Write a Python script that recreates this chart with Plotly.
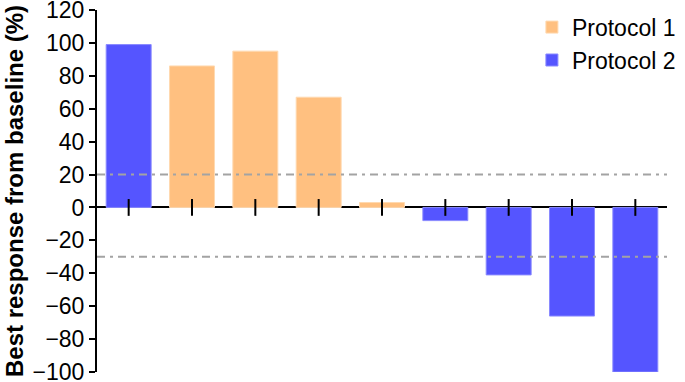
import plotly.graph_objects as go

patients = [1, 2, 3, 4, 5, 6, 7, 8, 9]
best_response = [99, 86, 95, 67, 3, -8, -41, -66, -100]
protocol = ["Protocol 2", "Protocol 1", "Protocol 1", "Protocol 1", "Protocol 1",
            "Protocol 2", "Protocol 2", "Protocol 2", "Protocol 2"]
series_names = ["Protocol 1", "Protocol 2"]
series_colors = {"Protocol 1": "#FFC080", "Protocol 2": "#5555FF"}
series_edges = {"Protocol 1": "#FFD9B0", "Protocol 2": "#8A8AFF"}
reference_lines = [20, -30]
y_ticks = [120, 100, 80, 60, 40, 20, 0, -20, -40, -60, -80, -100]

FONT = "Liberation Sans, Arial, sans-serif"

fig = go.Figure()
for name in series_names:
    xs = [p for p, pr in zip(patients, protocol) if pr == name]
    ys = [v for v, pr in zip(best_response, protocol) if pr == name]
    fig.add_trace(go.Bar(
        x=xs, y=ys, name=name, width=0.71,
        marker=dict(color=series_colors[name],
                    line=dict(color=series_edges[name], width=1)),
    ))

for yv in reference_lines:
    fig.add_hline(y=yv, line=dict(color="#A3A3A3", width=2, dash="8px,5px,3px,5px"),
                  layer="above")

# crossing tick marks on the zero line
fig.add_trace(go.Scatter(
    x=patients, y=[0] * len(patients), mode="markers", showlegend=False,
    hoverinfo="skip",
    marker=dict(symbol="line-ns", size=12, line=dict(color="black", width=2)),
))

fig.update_layout(
    width=685, height=382,
    margin=dict(l=97, r=18, t=10, b=10, autoexpand=False),
    paper_bgcolor="white", plot_bgcolor="white",
    barmode="overlay",
    font=dict(family=FONT, size=22, color="black"),
    showlegend=True,
    legend=dict(x=0.763, y=1.012, xanchor="left", yanchor="top",
                font=dict(size=23, family=FONT), bgcolor="rgba(0,0,0,0)",
                tracegroupgap=0),
    xaxis=dict(range=[0.5, 9.5], visible=False, automargin=False),
    yaxis=dict(
        range=[-100, 120], tickvals=y_ticks, automargin=False,
        ticktext=[str(t).replace("-", "\u2212") for t in y_ticks],
        ticklabeloverflow="allow",
        showgrid=False, zeroline=True, zerolinecolor="black", zerolinewidth=2,
        showline=True, linecolor="black", linewidth=2,
        ticks="outside", ticklen=6, tickwidth=2, tickcolor="black",
        tickfont=dict(size=23, family=FONT),
        title=dict(text="<b>Best response from baseline (%)</b>",
                   font=dict(size=24, family=FONT), standoff=2),
    ),
)

fig.write_html("out.html", config={"displayModeBar": False},
               post_script="document.body.style.margin='0';document.body.style.overflow='hidden';")
